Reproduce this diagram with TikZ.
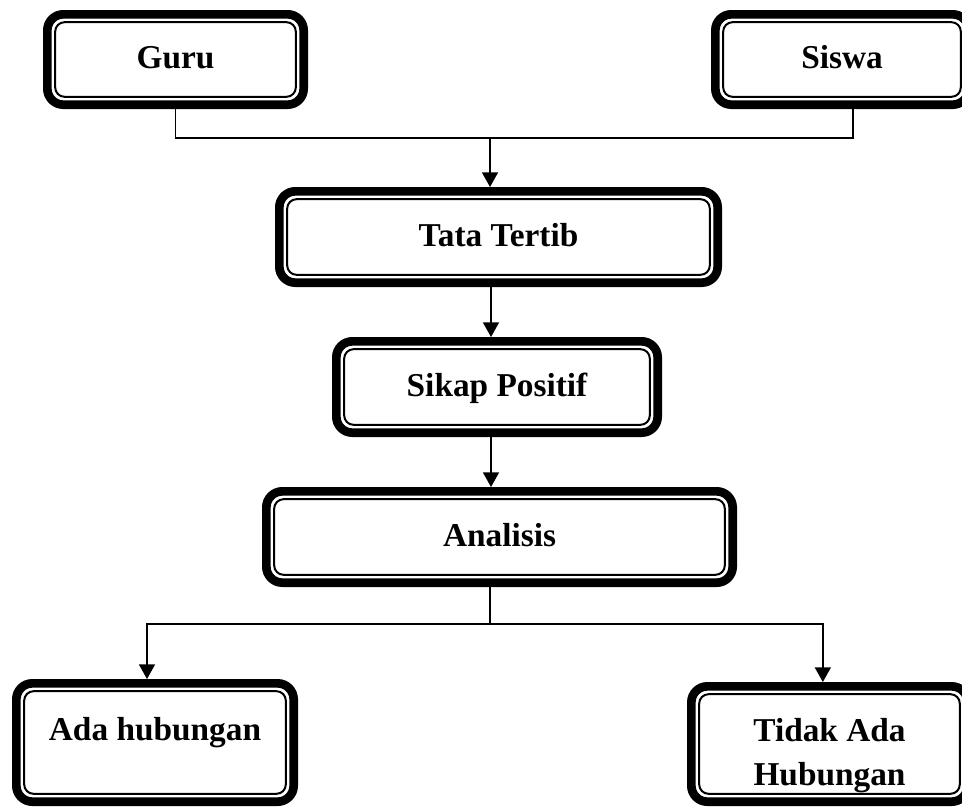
\documentclass[tikz,border=0pt]{standalone}
\usepackage{fontspec}
\setmainfont{Liberation Serif}
\usetikzlibrary{arrows.meta}
\tikzstyle{kotak} = [draw, line width=6.5pt, rounded corners=12pt, fill=white,
align=center, font=\fontsize{25}{33}\selectfont\bfseries,
path picture={\draw[line width=1.5pt, rounded corners=7pt]
([shift={(5.9pt,5.9pt)}]path picture bounding box.south west) rectangle
([shift={(-5.9pt,-5.9pt)}]path picture bounding box.north east);}]
\tikzstyle{satu} = [text height=18pt, text depth=4.5pt]
\tikzstyle{garis} = [line width=1.2pt]
\tikzstyle{panah} = [line width=1.2pt, -{Triangle[width=12pt,length=11pt]}]

\begin{document}
\begin{tikzpicture}[x=0.75pt, y=0.75pt]
                    \useasboundingbox (0,0) rectangle (962,-807);
                    \node[kotak, satu, minimum width=192.25pt, minimum height=67.75pt] (guru) at (175.5,-59.5) {Guru};
                    \node[kotak, satu, minimum width=190pt, minimum height=67.75pt] (siswa) at (842,-59.5) {Siswa};
                    \node[kotak, satu, minimum width=328.75pt, minimum height=68.5pt] (tata) at (498.5,-237) {Tata Tertib};
                    \node[kotak, satu, minimum width=241pt, minimum height=68.5pt] (sikap) at (497,-387) {Sikap Positif};
                    \node[kotak, satu, minimum width=349.75pt, minimum height=68.5pt] (analisis) at (499.5,-537) {Analisis};
                    \node[kotak, text height=7pt, text depth=10pt, minimum width=208pt, minimum height=88.75pt] (ada) at (155,-742.5) {Ada hubungan};
                    \node[kotak, text height=61.5pt, text depth=0pt, minimum width=207.25pt, minimum height=86.5pt] (tidak) at (829.5,-744) {Tidak Ada\\Hubungan};
                    \coordinate (gabung) at (490,-138);
                    \coordinate (cabang) at (490,-624);
                    \draw[garis] (guru.south) |- (gabung);
                    \draw[garis] ([xshift=8.25pt]siswa.south) |- (gabung);
                    \draw[panah] (gabung) -- (gabung |- tata.north);
                    \draw[panah] ([xshift=-4.5pt]sikap.north |- tata.south) -- ([xshift=-4.5pt]sikap.north);
                    \draw[panah] ([xshift=-4.5pt]sikap.south) -- ([xshift=-4.5pt]sikap.south |- analisis.north);
                    \draw[garis] (analisis.south -| cabang) -- (cabang);
                    \draw[panah] (cabang) -| ([xshift=-6pt]ada.north);
                    \draw[panah] (cabang) -| ([xshift=-5pt]tidak.north);
                \end{tikzpicture}
\end{document}
